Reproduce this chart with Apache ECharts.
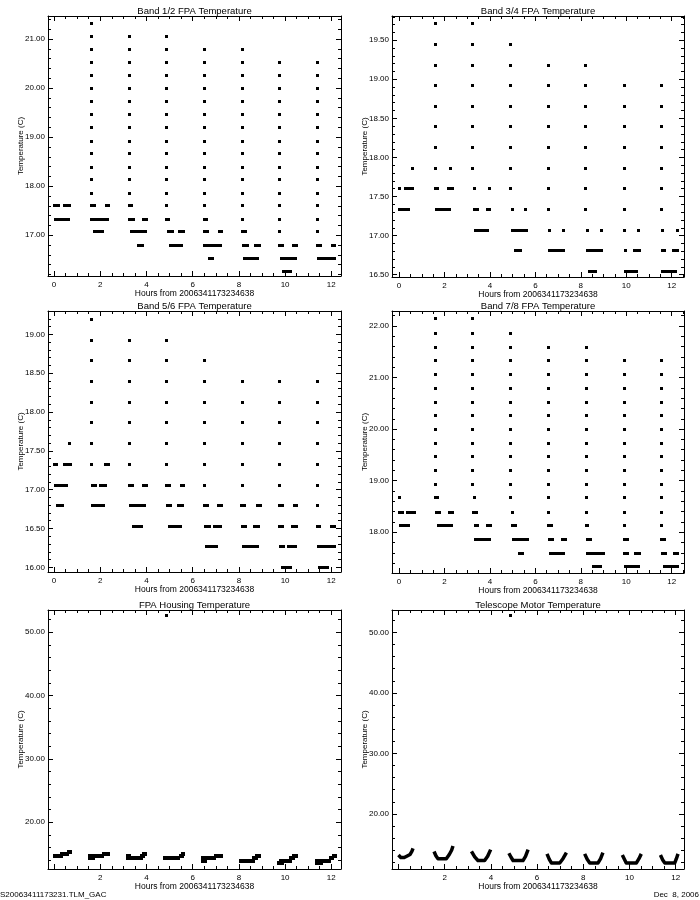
<!DOCTYPE html>
<html><head><meta charset="utf-8">
<script src="https://cdn.jsdelivr.net/npm/echarts@6/dist/echarts.min.js"></script>
<style>html,body{margin:0;padding:0;background:#fff}#c{width:700px;height:900px}</style>
</head><body><div id="c"></div>
<script>
// ---------- texts ----------
const xAxisName = 'Hours from 2006341173234638';
const yAxisName = 'Temperature (C)';
const footerLeft = 'S20063411173231.TLM_GAC';
const footerRight = 'Dec  8, 2006';
const panelTitles = ['Band 1/2 FPA Temperature','Band 3/4 FPA Temperature','Band 5/6 FPA Temperature','Band 7/8 FPA Temperature','FPA Housing Temperature','Telescope Motor Temperature'];

// ---------- Band 1/2 ----------
const band12Levels = [16.27,16.53,16.80,17.07,17.33,17.60,17.86,18.13,18.39,18.66,18.92,19.19,19.46,19.72,19.99,20.26,20.52,20.79,21.06,21.32];
const band12Columns = [[1.59,21.32,17.86],[3.24,21.06,17.86],[4.87,21.06,17.60],[6.49,20.79,17.60],[8.13,20.79,17.33],[9.76,20.52,17.07],[11.40,20.52,17.07]];
const band12Runs = [[0,0.22,17.60],[0.46,0.72,17.60],[0.03,0.61,17.33],
 [1.59,1.73,17.60],[2.24,2.36,17.60],[1.62,2.36,17.33],[1.76,2.15,17.07],
 [3.26,3.36,17.60],[3.26,3.46,17.33],[3.86,4.0,17.33],[3.33,3.96,17.07],[3.63,3.83,16.80],
 [4.87,4.98,17.33],[4.94,5.13,17.07],[5.41,5.61,17.07],[5.02,5.52,16.80],
 [6.49,6.60,17.33],[6.49,6.65,17.07],[7.13,7.24,17.07],[6.52,7.26,16.80],[6.71,6.85,16.53],
 [8.13,8.27,17.07],[8.18,8.40,16.80],[8.69,8.89,16.80],[8.24,8.82,16.53],
 [9.76,9.90,16.80],[10.34,10.51,16.80],[9.83,10.47,16.53],[9.93,10.25,16.27],
 [11.40,11.55,16.80],[12.04,12.14,16.80],[11.42,12.16,16.53]];

// ---------- Band 3/4 ----------
const band34Levels = [16.54,16.81,17.06,17.33,17.60,17.86,18.13,18.39,18.65,18.92,19.18,19.44,19.71];
const band34Columns = [[1.57,19.71,17.86],[3.23,19.71,17.86],[4.90,19.44,17.60],[6.56,19.18,17.33],[8.21,19.18,17.33],[9.89,18.92,17.33],[11.54,18.92,17.33]];
const band34Runs = [[0,0,17.60],[0.29,0.62,17.60],[0,0.43,17.33],[0.59,0.59,17.86],
 [2.27,2.27,17.86],[1.60,1.70,17.60],[2.16,2.35,17.60],[1.62,2.20,17.33],
 [3.30,3.30,17.60],[3.96,3.96,17.60],[3.30,3.44,17.33],[3.86,3.96,17.33],[3.33,3.89,17.06],
 [4.97,4.97,17.33],[5.56,5.56,17.33],[4.97,5.60,17.06],[5.12,5.38,16.81],
 [6.59,6.59,17.06],[7.22,7.22,17.06],[6.59,7.23,16.81],
 [8.27,8.27,17.06],[8.90,8.90,17.06],[8.27,8.90,16.81],[8.35,8.64,16.54],
 [9.89,9.89,17.06],[10.53,10.53,17.06],[9.95,9.95,16.81],[10.33,10.56,16.81],[9.95,10.44,16.54],
 [11.57,11.57,17.06],[12.25,12.25,17.06],[11.57,11.69,16.81],[12.08,12.29,16.81],[11.57,12.16,16.54]];

// ---------- Band 5/6 ----------
const band56Levels = [16.00,16.27,16.53,16.80,17.06,17.33,17.59,17.86,18.12,18.39,18.66,18.92,19.19];
const band56Columns = [[1.59,19.19,17.33],[3.24,18.92,17.33],[4.87,18.92,17.33],[6.49,18.66,17.06],[8.14,18.39,17.06],[9.76,18.39,17.06],[11.41,18.39,16.80]];
const band56Runs = [[0,0.1,17.33],[0.43,0.72,17.33],[0.03,0.53,17.06],[0.13,0.36,16.80],[0.64,0.64,17.59],
 [2.20,2.36,17.33],[1.66,1.81,17.06],[2.02,2.27,17.06],[1.66,2.15,16.80],
 [3.24,3.40,17.06],[3.86,4.0,17.06],[3.28,3.90,16.80],[3.43,3.79,16.53],
 [4.87,5.02,17.06],[5.49,5.62,17.06],[4.92,5.06,16.80],[5.38,5.59,16.80],[4.97,5.49,16.53],
 [6.49,6.65,16.80],[7.11,7.26,16.80],[6.53,6.71,16.53],[6.92,7.21,16.53],[6.58,7.06,16.27],
 [8.11,8.27,16.80],[8.78,8.92,16.80],[8.15,8.31,16.53],[8.66,8.88,16.53],[8.17,8.79,16.27],
 [9.76,9.90,16.80],[10.39,10.52,16.80],[9.76,9.93,16.53],[10.31,10.51,16.53],[9.79,9.96,16.27],[10.12,10.44,16.27],[9.87,10.25,16.00],
 [11.41,11.52,16.53],[12.0,12.17,16.53],[11.45,11.61,16.27],[11.68,12.12,16.27],[11.49,11.88,16.00]];

// ---------- Band 7/8 ----------
const band78Levels = [17.33,17.59,17.86,18.14,18.39,18.67,18.93,19.20,19.46,19.73,20.00,20.26,20.52,20.79,21.06,21.33,21.59,21.86,22.14];
const band78Columns = [[1.60,22.14,18.93],[3.23,22.14,18.93],[4.90,21.86,18.67],[6.56,21.59,18.39],[8.23,21.59,18.39],[9.89,21.33,18.39],[11.54,21.33,18.14]];
const band78Runs = [[0,0,18.67],[0,0.18,18.39],[0.35,0.69,18.39],[0.07,0.47,18.14],
 [1.60,1.73,18.67],[1.65,1.79,18.39],[2.20,2.35,18.39],[1.72,2.30,18.14],
 [3.29,3.29,18.67],[3.26,3.40,18.39],[3.36,3.48,18.14],[3.86,4.0,18.14],[3.37,4.0,17.86],
 [4.97,4.97,18.39],[4.97,5.12,18.14],[5.02,5.65,17.86],[5.28,5.46,17.59],
 [6.56,6.70,18.14],[6.60,6.78,17.86],[7.16,7.33,17.86],[6.67,7.29,17.59],
 [8.23,8.32,18.14],[8.27,8.42,17.86],[8.30,9.01,17.59],[8.54,8.86,17.33],
 [9.93,9.93,18.14],[9.89,10.03,17.86],[9.93,10.11,17.59],[10.41,10.62,17.59],[9.97,10.55,17.33],
 [11.54,11.69,17.86],[11.57,11.73,17.59],[12.13,12.31,17.59],[11.65,12.26,17.33]];

// ---------- FPA Housing ----------
const housingRuns = [[0,0.33,14.63],[0.33,0.6,14.94],[0.6,0.7,15.30],
 [1.54,2.11,14.63],[1.54,1.75,14.26],[2.11,2.36,14.94],
 [3.16,3.27,14.63],[3.16,3.78,14.26],[3.78,3.88,14.63],[3.88,4.0,14.94],
 [4.79,5.44,14.26],[5.44,5.55,14.63],[5.55,5.62,14.94],
 [6.43,6.60,13.89],[6.43,6.96,14.26],[6.96,7.25,14.63],
 [8.05,8.63,13.89],[8.63,8.77,14.26],[8.77,8.92,14.63],
 [9.71,9.93,13.57],[9.78,10.22,13.89],[10.22,10.36,14.26],[10.36,10.51,14.63],
 [11.35,11.60,13.57],[11.35,11.96,13.89],[11.96,12.07,14.26],[12.07,12.17,14.63]];
const housingOutliers = [[4.87,4.87,52.7]];

// ---------- Telescope Motor ----------
const motorCycles = [
 [[0.00,13.2],[0.10,12.8],[0.25,12.8],[0.40,13.1],[0.50,13.3],[0.58,13.8],[0.63,14.3]],
 [[1.54,13.8],[1.62,13.1],[1.71,12.6],[2.07,12.6],[2.20,13.3],[2.30,14.0],[2.36,14.7]],
 [[3.16,13.8],[3.30,12.9],[3.44,12.3],[3.73,12.3],[3.86,13.0],[3.99,14.1]],
 [[4.78,13.5],[4.88,12.8],[4.96,12.3],[5.39,12.3],[5.50,13.0],[5.61,14.1]],
 [[6.43,13.4],[6.53,12.5],[6.62,11.9],[6.98,11.9],[7.12,12.6],[7.27,13.6]],
 [[8.06,13.4],[8.17,12.5],[8.28,11.9],[8.64,11.9],[8.75,12.6],[8.85,13.6]],
 [[9.69,13.2],[9.78,12.5],[9.86,11.9],[10.30,11.9],[10.41,12.6],[10.51,13.4]],
 [[11.34,13.2],[11.44,12.4],[11.53,11.9],[11.96,11.9],[12.03,12.6],[12.10,13.4]]];
const motorOutliers = [[4.84,4.84,52.8]];

// ---------- axis ranges ----------
const xRanges = [[-0.26,12.42],[-0.31,12.54],[-0.26,12.42],[-0.31,12.54],[-0.26,12.42],[-0.28,12.36]];
const yRanges = [[16.17,21.47],[16.47,19.81],[15.94,19.30],[17.21,22.29],[12.6,53.5],[10.9,53.7]];
const yIntervals = [1,0.5,0.5,1,10,10];
const showZeroX = [true,true,true,true,false,false];

// ---------- layout ----------
const grids = [
 {left:48,top:16,width:293,height:260},
 {left:392,top:16,width:292,height:261},
 {left:48,top:311,width:293,height:261},
 {left:392,top:311,width:292,height:262},
 {left:48,top:610,width:293,height:259},
 {left:392,top:610,width:292,height:259}];

const FONT = 'Liberation Sans';
const black = '#000';

function isMultiple(v, step){ const r = v/step; return Math.abs(r-Math.round(r)) < 1e-6; }

const xAxes = [], yAxes = [], titles = [];
grids.forEach((g,i)=>{
  const axisBase = {
    type:'value', gridIndex:i,
    axisLine:{show:true,onZero:false,lineStyle:{color:black,width:1}},
    splitLine:{show:false},
    axisTick:{show:true,inside:true,length:5,lineStyle:{color:black,width:1}},
    minorTick:{show:true,length:3,lineStyle:{color:black,width:1}}
  };
  const xb = Object.assign({}, axisBase, {
    position:'bottom', min:xRanges[i][0], max:xRanges[i][1], minInterval:2, maxInterval:2, splitNumber:6,
    minorTick:Object.assign({}, axisBase.minorTick, {splitNumber:4}),
    axisLabel:{fontFamily:FONT,fontSize:8,color:black,margin:5,
      formatter:v=> (isMultiple(v,2) && (showZeroX[i] || Math.abs(v)>1e-9)) ? String(Math.round(v)) : ''},
    name:xAxisName, nameLocation:'middle', nameGap:13, nameMoveOverlap:false,
    nameTextStyle:{fontFamily:FONT,fontSize:8.5,color:black}
  });
  const xt = Object.assign({}, axisBase, {
    position:'top', min:xRanges[i][0], max:xRanges[i][1], minInterval:2, maxInterval:2, splitNumber:6,
    minorTick:Object.assign({}, axisBase.minorTick, {splitNumber:4}),
    axisLabel:{show:false}
  });
  const yi = yIntervals[i];
  const yl = Object.assign({}, axisBase, {
    position:'left', min:yRanges[i][0], max:yRanges[i][1], minInterval:yi, maxInterval:yi, splitNumber:6,
    minorTick:Object.assign({}, axisBase.minorTick, {splitNumber:5}),
    axisLabel:{fontFamily:FONT,fontSize:8,color:black,margin:3,
      formatter:v=> isMultiple(v,yi) ? v.toFixed(2) : ''},
    name:yAxisName, nameLocation:'middle', nameGap:23, nameRotate:90, nameMoveOverlap:false,
    nameTextStyle:{fontFamily:FONT,fontSize:8,color:black}
  });
  const yr = Object.assign({}, axisBase, {
    position:'right', min:yRanges[i][0], max:yRanges[i][1], minInterval:yi, maxInterval:yi, splitNumber:6,
    minorTick:Object.assign({}, axisBase.minorTick, {splitNumber:5}),
    axisLabel:{show:false}
  });
  xAxes.push(xb, xt); yAxes.push(yl, yr);
  titles.push({text:panelTitles[i], left:g.left + g.width/2, top:g.top-10, textAlign:'center', padding:0,
    textStyle:{fontFamily:FONT,fontSize:9.5,fontWeight:'normal',color:black}});
});
titles.push({text:footerLeft, left:0, top:891, padding:0, textStyle:{fontFamily:FONT,fontSize:8,fontWeight:'normal',color:black}});
titles.push({text:footerRight, right:1, top:891, padding:0, textStyle:{fontFamily:FONT,fontSize:8,fontWeight:'normal',color:black}});

// horizontal runs / dots, drawn as crisp rectangles through the axis scales
function runsSeries(runs, gi, h){
  return {type:'custom', xAxisIndex:2*gi, yAxisIndex:2*gi, data:runs, silent:true, animation:false, clip:true,
    encode:{x:[0,1], y:2},
    renderItem(params, api){
      const p0 = api.coord([api.value(0), api.value(2)]);
      const p1 = api.coord([api.value(1), api.value(2)]);
      const x0 = Math.round(p0[0]-1.2);
      const w = Math.max(Math.round(p1[0]-p0[0]+2.4), 3);
      return {type:'rect', shape:{x:x0, y:Math.round(p0[1]-h/2), width:w, height:h}, style:{fill:black}};
    }};
}
// each column is a quick transition: one reading at every quantised level between its top and bottom
function columnPoints(levels, columns){
  const pts = [];
  columns.forEach(c=>{ levels.forEach(l=>{ if(l <= c[1]+1e-6 && l >= c[2]-1e-6) pts.push([c[0], c[0], l]); }); });
  return pts;
}

const series = [];
const bands = [[band12Levels,band12Columns,band12Runs],[band34Levels,band34Columns,band34Runs],
               [band56Levels,band56Columns,band56Runs],[band78Levels,band78Columns,band78Runs]];
bands.forEach((b,i)=>{
  series.push(runsSeries(columnPoints(b[0],b[1]), i, 3));
  series.push(runsSeries(b[2], i, 3));
});
series.push(runsSeries(housingRuns, 4, 4));
series.push(runsSeries(housingOutliers, 4, 3));
const motorData = [];
motorCycles.forEach((c,k)=>{ if(k>0) motorData.push(null); c.forEach(p=>motorData.push(p)); });
series.push({type:'line', xAxisIndex:10, yAxisIndex:10, data:motorData, showSymbol:false, connectNulls:false,
  lineStyle:{color:black,width:3.5,join:'round'}, silent:true, animation:false});
series.push(runsSeries(motorOutliers, 5, 3));

const chart = echarts.init(document.getElementById('c'), null, {renderer:'canvas'});
chart.setOption({backgroundColor:'#fff', animation:false, title:titles, grid:grids, xAxis:xAxes, yAxis:yAxes, series:series});
</script></body></html>
